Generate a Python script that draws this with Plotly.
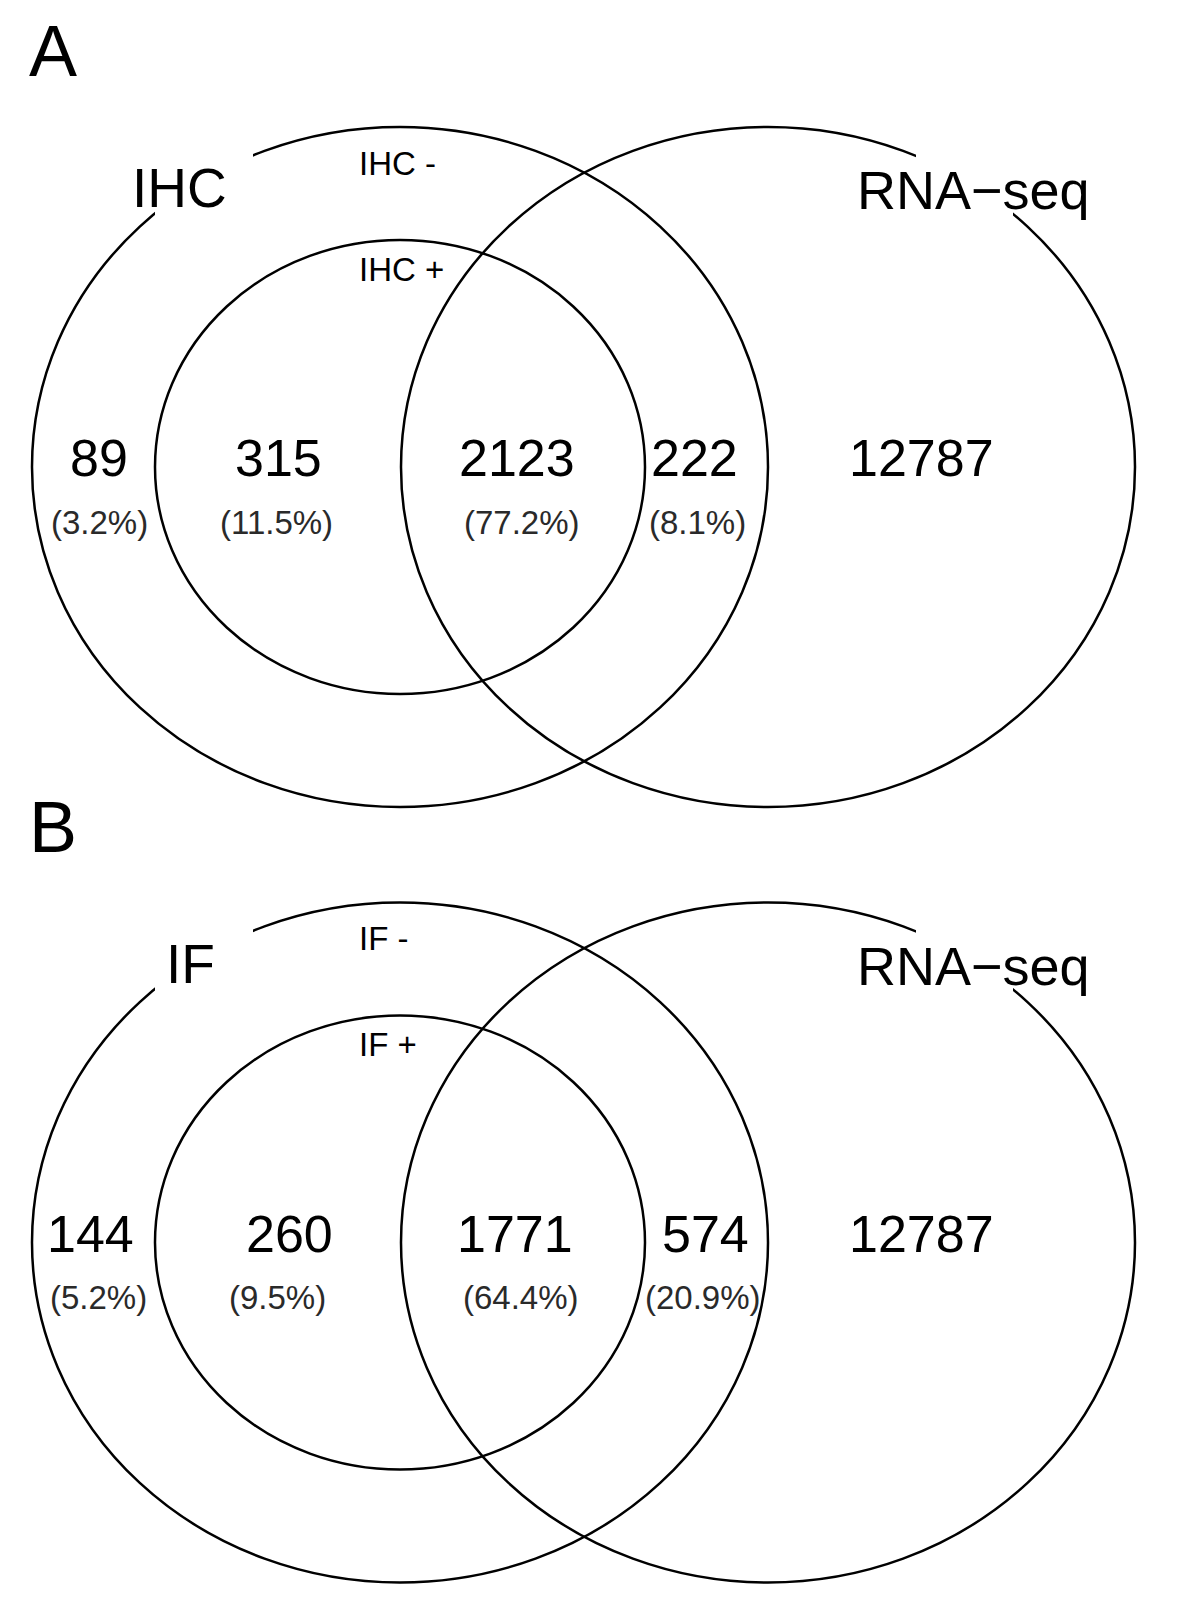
import plotly.graph_objects as go

# ---------------- data ----------------
panel_letters = ["A", "B"]
set_names = ["IHC", "IF"]
neg_labels = ["IHC -", "IF -"]
pos_labels = ["IHC +", "IF +"]
ref_name = "RNA\u2212seq"
counts_A = [89, 315, 2123, 222, 12787]   # neg-only, pos-only, pos&RNA, neg&RNA, RNA-only
counts_B = [144, 260, 1771, 574, 12787]
panel_counts = [counts_A, counts_B]

# ---------------- layout geometry ----------------
PAGE_W, PAGE_H = 1200, 1600
OFF = 8  # default body margin of the html page
FONT = "Liberation Sans, Arial, Helvetica, sans-serif"
panel_dy = [0, 775.5]
cy0 = 467
outer_left = dict(cx=400, rx=368, ry=340)
inner = dict(cx=400, rx=245, ry=227)
right = dict(cx=768, rx=367, ry=340)
num_x = [[99, 278, 517, 694, 921], [90, 289, 515, 705, 921]]
pct_x = [[99, 276, 522, 697], [98, 277, 521, 703]]
num_y, pct_y = 458, 522

fig = go.Figure()
shapes = []
annos = []

def ell(c, cy):
    return dict(type="circle", xref="x", yref="y",
                x0=c["cx"] - c["rx"], x1=c["cx"] + c["rx"],
                y0=cy - c["ry"], y1=cy + c["ry"],
                line=dict(color="black", width=2.5), fillcolor="rgba(0,0,0,0)",
                layer="above")

def mask(x0, x1, y0, y1):
    return dict(type="rect", xref="x", yref="y", x0=x0, x1=x1, y0=y0, y1=y1,
                line=dict(width=0), fillcolor="white", layer="above")

for p in range(2):
    dy = panel_dy[p]
    cy = cy0 + dy
    shapes += [ell(outer_left, cy), ell(inner, cy), ell(right, cy)]
    shapes += [mask(155, 253, 150 + dy, 216 + dy), mask(916, 1013, 150 + dy, 220 + dy)]

    counts = panel_counts[p]
    total = sum(counts[:4])
    for i, v in enumerate(counts):
        annos.append(dict(x=num_x[p][i], y=num_y + dy, text=str(v), showarrow=False,
                          xanchor="center", yanchor="middle",
                          font=dict(family=FONT, size=52, color="black")))
    for i in range(4):
        annos.append(dict(x=pct_x[p][i], y=pct_y + dy,
                          text="(%.1f%%)" % (100.0 * counts[i] / total), showarrow=False,
                          xanchor="center", yanchor="middle",
                          font=dict(family=FONT, size=33, color="#2a2a2a")))
    annos.append(dict(x=27, y=51 + dy, text=panel_letters[p], showarrow=False,
                      xanchor="left", yanchor="middle",
                      font=dict(family=FONT, size=72, color="black")))
    annos.append(dict(x=[179, 190][p], y=188 + dy, text=set_names[p], showarrow=False,
                      xanchor="center", yanchor="middle",
                      font=dict(family=FONT, size=55, color="black")))
    annos.append(dict(x=973, y=190 + dy, text=ref_name, showarrow=False,
                      xanchor="center", yanchor="middle",
                      font=dict(family=FONT, size=54, color="black")))
    annos.append(dict(x=357, y=163 + dy, text=neg_labels[p], showarrow=False,
                      xanchor="left", yanchor="middle",
                      font=dict(family=FONT, size=33, color="black")))
    annos.append(dict(x=357, y=269 + dy, text=pos_labels[p], showarrow=False,
                      xanchor="left", yanchor="middle",
                      font=dict(family=FONT, size=33, color="black")))

fig.update_layout(
    width=PAGE_W - OFF, height=PAGE_H - OFF, margin=dict(l=0, r=0, t=0, b=0),
    paper_bgcolor="white", plot_bgcolor="white",
    xaxis=dict(range=[OFF, PAGE_W], visible=False, fixedrange=True),
    yaxis=dict(range=[PAGE_H, OFF], visible=False, fixedrange=True),
    shapes=shapes, annotations=annos, showlegend=False,
)
fig.write_html("out.html")
